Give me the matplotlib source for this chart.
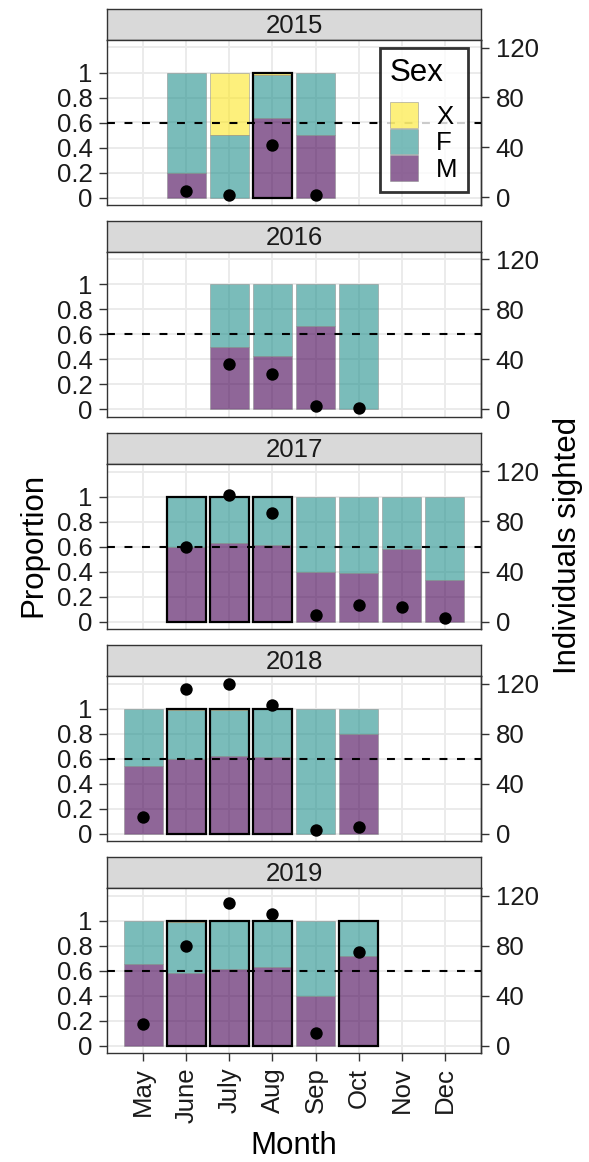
import matplotlib
matplotlib.use("Agg")
import matplotlib.pyplot as plt
import numpy as np
from matplotlib.patches import Patch

plt.rcParams["font.family"] = ["Liberation Sans", "DejaVu Sans"]

# ---- data ----
month_num = [5, 6, 7, 8, 9, 10, 11, 12]
month_labels = ["May", "June", "July", "Aug", "Sep", "Oct", "Nov", "Dec"]
years = [2015, 2016, 2017, 2018, 2019]

months = {
    2015: [6, 7, 8, 9],
    2016: [7, 8, 9, 10],
    2017: [6, 7, 8, 9, 10, 11, 12],
    2018: [5, 6, 7, 8, 9, 10],
    2019: [5, 6, 7, 8, 9, 10],
}
prop_m = {
    2015: [0.20, 0.00, 0.64, 0.50],
    2016: [0.50, 0.43, 0.67, 0.00],
    2017: [0.60, 0.63, 0.61, 0.40, 0.39, 0.58, 0.33],
    2018: [0.54, 0.60, 0.62, 0.615, 0.00, 0.80],
    2019: [0.65, 0.58, 0.61, 0.63, 0.40, 0.72],
}
prop_x = {
    2015: [0.00, 0.50, 0.02, 0.00],
    2016: [0.00, 0.00, 0.00, 0.00],
    2017: [0, 0, 0, 0, 0, 0, 0],
    2018: [0.00, 0.015, 0.012, 0.00, 0.00, 0.00],
    2019: [0.00, 0.015, 0.00, 0.00, 0.00, 0.00],
}
sighted = {
    2015: [5, 2, 42, 2],
    2016: [36, 28, 3, 1],
    2017: [60, 101, 87, 5, 13, 12, 3],
    2018: [13, 116, 120, 103, 3, 5],
    2019: [17, 80, 114, 105, 10, 75],
}
highlight = {
    2015: [0, 0, 1, 0],
    2016: [0, 0, 0, 0],
    2017: [1, 1, 1, 0, 0, 0, 0],
    2018: [0, 1, 1, 1, 0, 0],
    2019: [0, 1, 1, 1, 0, 1],
}
threshold = 0.6

# viridis(3) with alpha 0.6
col_m = "#440154"
col_f = "#21908C"
col_x = "#FDE725"
alpha = 0.6
edge_grey = "#8c8c8c"
frame = "#333333"
txt = 18.5
title_sz = 22.5

W, H = 589, 1162
fig = plt.figure(figsize=(W / 100, H / 100), dpi=100)


def fx(px):
    return px / W


def fy(px):
    return 1 - px / H


left, right = 107, 481
strip_h, panel_h, step, top0 = 31, 165, 212, 9

for i, yr in enumerate(years):
    s_top = top0 + i * step
    p_top = s_top + strip_h
    p_bot = p_top + panel_h

    # strip
    sax = fig.add_axes([fx(left), fy(p_top), fx(right - left), strip_h / H])
    sax.set_facecolor("#D9D9D9")
    sax.set_xticks([])
    sax.set_yticks([])
    for sp in sax.spines.values():
        sp.set_color(frame)
        sp.set_linewidth(1.0)
    sax.text(0.5, 0.45, str(yr), ha="center", va="center", fontsize=txt,
             color="#1a1a1a", transform=sax.transAxes)

    ax = fig.add_axes([fx(left), fy(p_bot), fx(right - left), panel_h / H])
    ax.set_xlim(4.155, 12.845)
    ax.set_ylim(-0.06, 1.26)

    for gy in np.arange(0, 1.21, 0.2):
        ax.axhline(gy, color="#EBEBEB", lw=1.4, zorder=0)
    for gx in month_num:
        ax.axvline(gx, color="#EBEBEB", lw=1.4, zorder=0)

    x = np.array(months[yr])
    m = np.array(prop_m[yr])
    xx = np.array(prop_x[yr])
    f = 1 - m - xx

    for vals, bottoms, col in ((m, np.zeros_like(m), col_m),
                               (f, m, col_f),
                               (xx, m + f, col_x)):
        keep = vals > 0
        ax.bar(x[keep], vals[keep], bottom=bottoms[keep], width=0.9,
               color=col, alpha=alpha, edgecolor=edge_grey, linewidth=0.6,
               zorder=2)
    hl = np.array(highlight[yr]).astype(bool)
    if hl.any():
        ax.bar(x[hl], np.ones(hl.sum()), width=0.9, fill=False,
               edgecolor="black", linewidth=1.6, zorder=3)

    ax.axhline(threshold, color="black", lw=1.5, linestyle=(0, (3.8, 4.6)),
               zorder=4)
    ax.scatter(x, np.array(sighted[yr]) / 100, s=80, color="black",
               zorder=5, linewidths=0)

    ax.set_yticks([0, 0.2, 0.4, 0.6, 0.8, 1.0])
    ax.set_yticklabels(["0", "0.2", "0.4", "0.6", "0.8", "1"])
    ax.set_xticks(month_num)
    if i == len(years) - 1:
        ax.set_xticklabels(month_labels, rotation=90, ha="center", va="top")
    else:
        ax.tick_params(axis="x", bottom=False, labelbottom=False)
    ax.tick_params(axis="both", length=5.5, width=1.0, color=frame,
                   labelsize=txt, pad=5, labelcolor="#1a1a1a")
    for sp in ax.spines.values():
        sp.set_color(frame)
        sp.set_linewidth(1.0)

    sec = ax.secondary_yaxis("right", functions=(lambda v: v * 100,
                                                  lambda v: v / 100))
    sec.set_yticks([0, 40, 80, 120])
    sec.tick_params(length=5.5, width=1.0, color=frame, labelsize=txt, pad=5,
                    labelcolor="#1a1a1a")
    sec.spines["right"].set_color(frame)
    sec.spines["right"].set_linewidth(1.0)

    if yr == 2015:
        handles = [
            Patch(facecolor=col_x, alpha=alpha, edgecolor=edge_grey, lw=0.6, label="X"),
            Patch(facecolor=col_f, alpha=alpha, edgecolor=edge_grey, lw=0.6, label="F"),
            Patch(facecolor=col_m, alpha=alpha, edgecolor=edge_grey, lw=0.6, label="M"),
        ]
        leg = ax.legend(handles=handles, title="Sex", loc="upper right",
                        bbox_to_anchor=(fx(468), fy(48)),
                        bbox_transform=fig.transFigure,
                        fontsize=txt, title_fontsize=title_sz, frameon=True,
                        fancybox=False, edgecolor="black",
                        handlelength=1.1, handleheight=1.15,
                        labelspacing=0.0, handletextpad=0.7,
                        borderpad=0.4, borderaxespad=0)
        leg.get_frame().set_linewidth(2.0)
        leg._legend_box.align = "left"
        leg._legend_box.sep = 10
        leg.set_zorder(10)

fig.text(fx(33), fy(545), "Proportion", rotation=90, ha="center",
         va="center", fontsize=title_sz)
fig.text(fx(568), fy(545), "Individuals sighted", rotation=90, ha="center",
         va="center", fontsize=title_sz)
fig.text(fx(294), fy(1146), "Month", ha="center", va="center",
         fontsize=title_sz)

fig.savefig("out.png", dpi=100)
